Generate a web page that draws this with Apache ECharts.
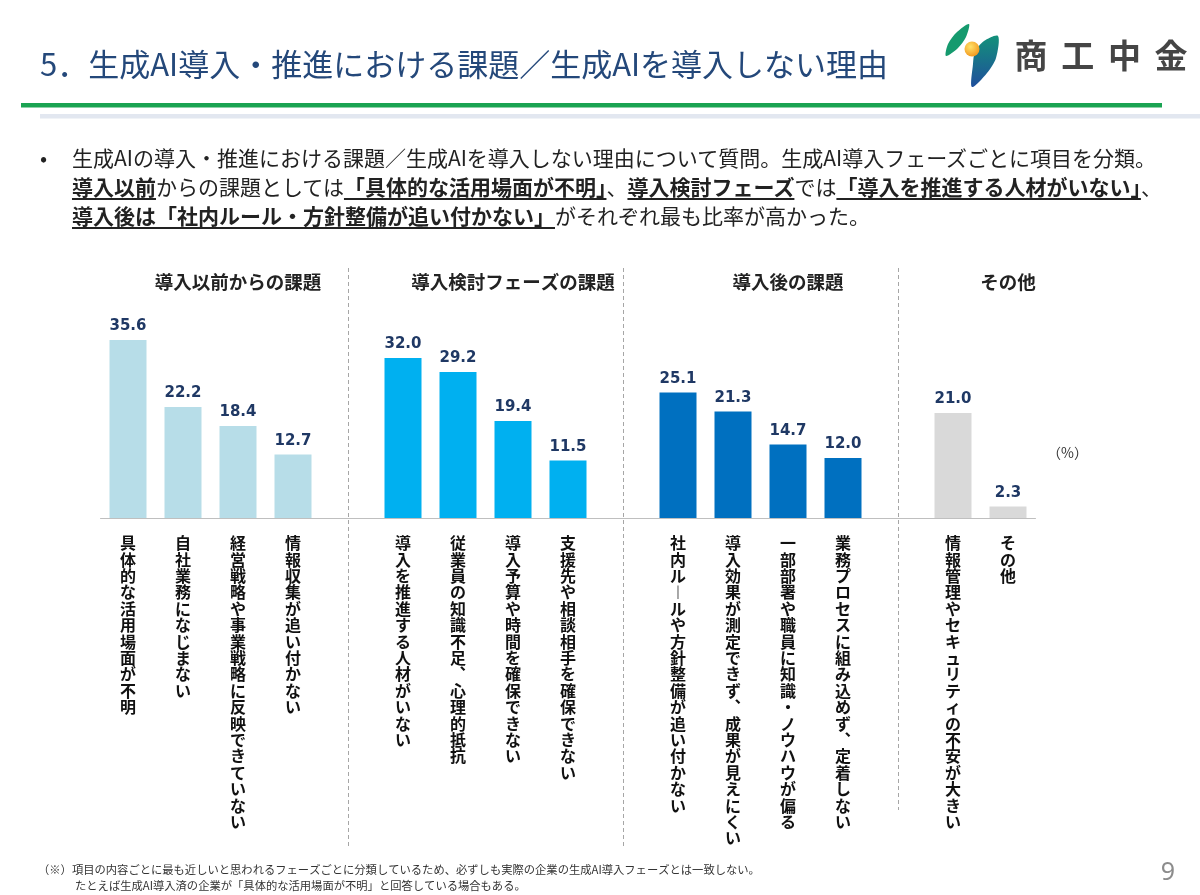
<!DOCTYPE html>
<html>
<head>
<meta charset="utf-8">
<script src="https://cdn.jsdelivr.net/npm/echarts@6/dist/echarts.min.js"></script>
<style>
  body { margin: 0; background: #fff; }
  #chart { position: absolute; left: 0; top: 0; width: 1200px; height: 895px; }
  #lead {
    position: absolute; left: 72px; top: 143px;
    font-family: "Noto Sans CJK JP", sans-serif; font-size: 21px; line-height: 29px;
    color: #222; white-space: nowrap;
  }
  #lead b { font-weight: bold; text-decoration: underline; text-decoration-thickness: 2px; text-underline-offset: 3px; }
  #dot { position: absolute; left: 40px; top: 143px; font-size: 21px; line-height: 29px; font-family: "Noto Sans CJK JP"; color: #222; }
</style>
</head>
<body>
<div id="chart"></div>
<div id="dot">•</div>
<div id="lead">
生成AIの導入・推進における課題／生成AIを導入しない理由について質問。生成AI導入フェーズごとに項目を分類。<br>
<b>導入以前</b>からの課題としては<b>「具体的な活用場面が不明」</b>、<b>導入検討フェーズ</b>では<b>「導入を推進する人材がいない」</b>、<br>
<b>導入後は「社内ルール・方針整備が追い付かない」</b>がそれぞれ最も比率が高かった。
</div>
<script>
const groupNames = ['導入以前からの課題', '導入検討フェーズの課題', '導入後の課題', 'その他']
const items1 = ['具体的な活用場面が不明', '自社業務になじまない', '経営戦略や事業戦略に反映できていない', '情報収集が追い付かない']
const values1 = [35.6, 22.2, 18.4, 12.7]
const items2 = ['導入を推進する人材がいない', '従業員の知識不足、心理的抵抗', '導入予算や時間を確保できない', '支援先や相談相手を確保できない']
const values2 = [32.0, 29.2, 19.4, 11.5]
const items3 = ['社内ルールや方針整備が追い付かない', '導入効果が測定できず、成果が見えにくい', '一部部署や職員に知識・ノウハウが偏る', '業務プロセスに組み込めず、定着しない']
const values3 = [25.1, 21.3, 14.7, 12.0]
const items4 = ['情報管理やセキュリティの不安が大きい', 'その他']
const values4 = [21.0, 2.3]
const groupColors = ['#b7dde8', '#00b0f0', '#0070c0', '#d9d9d9']

const groups = [[items1, values1], [items2, values2], [items3, values3], [items4, values4]]

// カテゴリ軸を組み立てる（グループ間に空きスロットを入れる）
let categories = []
let barData = []
let gapIndex = []
let groupCenter = []
groups.forEach(([items, values], g) => {
  let start = categories.length
  items.forEach((name, i) => {
    categories.push(name)
    barData.push({ value: values[i], itemStyle: { color: groupColors[g] } })
  })
  groupCenter.push((start + categories.length - 1) / 2)
  if (g < groups.length - 1) {
    gapIndex.push(categories.length)
    categories.push('gap' + g)
    barData.push('-')
  }
})

// 縦書き風に1文字ずつ改行
const toVertical = (s) => {
  if (s.startsWith('gap')) return ''
  return s.replace(/ー/g, '︱').replace(/、/g, '︑').split('').join('\n')
}

const chart = echarts.init(document.getElementById('chart'))

let option = {
  animation: false,
  grid: { left: 100.5, right: 164.5, top: 318, bottom: 377 },
  xAxis: {
    type: 'category',
    data: categories,
    axisLine: { lineStyle: { color: '#bfbfbf', width: 1 } },
    axisTick: { show: false },
    axisLabel: {
      interval: 0,
      margin: 17,
      formatter: toVertical,
      color: '#111',
      fontSize: 16,
      fontWeight: 'bold',
      lineHeight: 16.4,
      fontFamily: 'Noto Sans CJK JP',
      verticalAlign: 'top'
    }
  },
  yAxis: { type: 'value', min: 0, max: 40, show: false },
  series: [
    {
      type: 'bar',
      data: barData,
      barWidth: 37,
      label: {
        show: true,
        position: 'top',
        distance: 6,
        formatter: (p) => p.value.toFixed(1),
        color: '#1f3864',
        fontSize: 15,
        fontWeight: 'bold',
        fontFamily: 'DejaVu Sans'
      }
    }
  ]
}
chart.setOption(option)

// 区切り線・見出しなどの装飾
let graphics = [
  { type: 'text', x: 40, y: 64, style: { text: '5．生成AI導入・推進における課題／生成AIを導入しない理由', fontSize: 31, fill: '#24487a', fontFamily: 'Noto Sans CJK JP', verticalAlign: 'middle' } },
  { type: 'rect', shape: { x: 21, y: 103, width: 1141, height: 4.5 }, style: { fill: '#1aa352' } },
  { type: 'rect', shape: { x: 40, y: 114, width: 1160, height: 4.5 }, style: { fill: '#e2e7f0' } },
  // ロゴ
  { type: 'polygon', shape: { points: [[969, 24], [957, 32], [948, 44], [946, 56], [958, 48], [966, 37]], smooth: 0.3 }, style: { fill: '#159a6e' } },
  { type: 'polygon', shape: { points: [[998, 36], [984, 41], [975, 52], [973, 64], [972, 87], [987, 73], [996, 58]], smooth: 0.3 },
    style: { fill: { type: 'linear', x: 0, y: 0, x2: 0, y2: 1, colorStops: [{ offset: 0, color: '#13917a' }, { offset: 1, color: '#1f4f9c' }] } } },
  { type: 'circle', shape: { cx: 972, cy: 49, r: 7.5 },
    style: { fill: { type: 'radial', x: 0.4, y: 0.35, r: 0.7, colorStops: [{ offset: 0, color: '#ffe26a' }, { offset: 1, color: '#f2961c' }] } } },
  { type: 'text', x: 1168, y: 873, style: { text: '9', fontSize: 25, fill: '#8c8c8c', fontFamily: 'Noto Sans', align: 'center', verticalAlign: 'middle' } },
  { type: 'text', x: 1047, y: 453, style: { text: '（%）', fontSize: 14, fill: '#333', fontFamily: 'Noto Sans CJK JP', verticalAlign: 'middle' } },
  { type: 'text', x: 38, y: 870, style: { text: '（※）項目の内容ごとに最も近しいと思われるフェーズごとに分類しているため、必ずしも実際の企業の生成AI導入フェーズとは一致しない。', fontSize: 11.3, fill: '#333', fontFamily: 'Noto Sans CJK JP', verticalAlign: 'middle' } },
  { type: 'text', x: 75, y: 886, style: { text: 'たとえば生成AI導入済の企業が「具体的な活用場面が不明」と回答している場合もある。', fontSize: 11.3, fill: '#333', fontFamily: 'Noto Sans CJK JP', verticalAlign: 'middle' } }
]

'商工中金'.split('').forEach((ch, i) => {
  graphics.push({ type: 'text', x: 1031 + i * 46.7, y: 55, style: { text: ch, fontSize: 33, fill: '#454545', fontFamily: 'Noto Sans CJK JP', fontWeight: 'bold', align: 'center', verticalAlign: 'middle' } })
})

const dividerEnd = [848, 848, 810]
gapIndex.forEach((idx, i) => {
  let x = Math.round(chart.convertToPixel({ xAxisIndex: 0 }, idx)) + 0.5
  graphics.push({ type: 'line', shape: { x1: x, y1: 268, x2: x, y2: dividerEnd[i] }, style: { stroke: '#a6a6a6', lineWidth: 1, lineDash: [4, 3] } })
})
groupNames.forEach((name, g) => {
  let x = chart.convertToPixel({ xAxisIndex: 0 }, groupCenter[g])
  graphics.push({ type: 'text', x: x, y: 282, style: { text: name, fontSize: 18.5, fontWeight: 'bold', fill: '#222', fontFamily: 'Noto Sans CJK JP', align: 'center', verticalAlign: 'middle' } })
})

chart.setOption({ graphic: graphics })
</script>
</body>
</html>
